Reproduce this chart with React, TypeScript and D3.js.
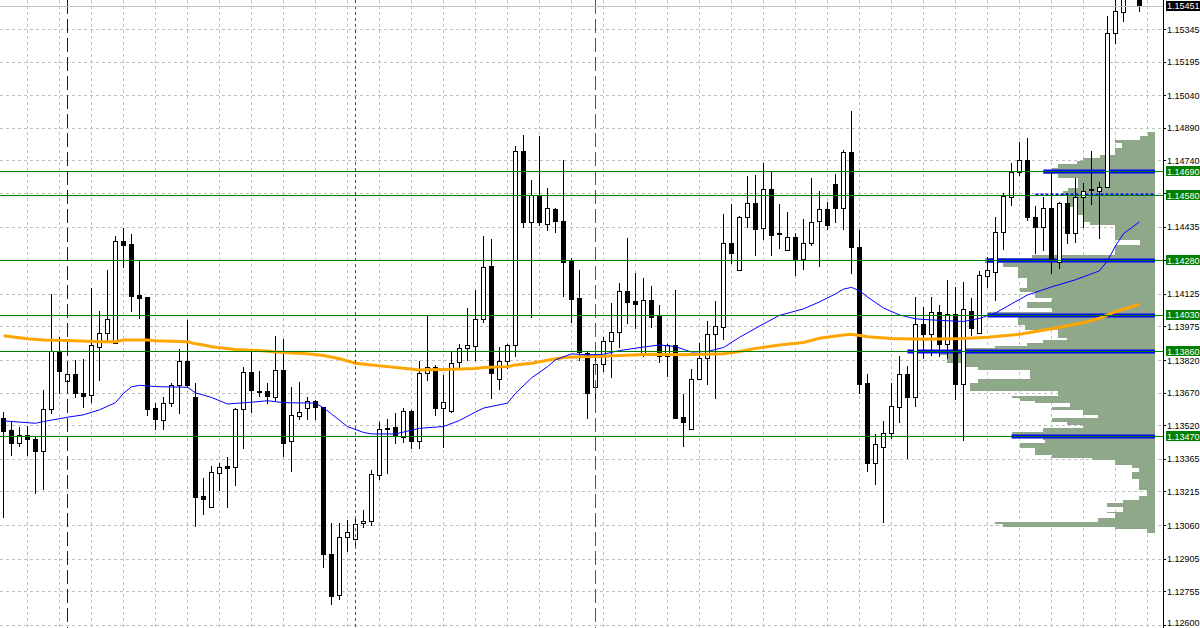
import { useEffect, useRef } from 'react';
import * as d3 from 'd3';

const WIDTH = 1200;
const HEIGHT = 628;
const AXIS_X = 1163;

// price scale labels on the right
const priceTicks = [
  1.15345, 1.15195, 1.1504, 1.1489, 1.1474, 1.1459, 1.14435, 1.1428, 1.14125, 1.13975,
  1.1382, 1.1367, 1.1352, 1.13365, 1.13215, 1.1306, 1.12905, 1.12755, 1.126,
];

// horizontal support / resistance levels
const levelPrices = [1.1469, 1.1458, 1.1428, 1.1403, 1.1386, 1.1347];
// bar where the profile marker for each level starts
const levelMarkFromBar = [130, 129, 123, 123, 113, 126];
const bidPrice = 1.15451;

// period separators (bar index)
const separatorBars = [8, 44, 74];

// candles: [open, high, low, close]
type Candle = [number, number, number, number];
const candles: Candle[] = [
  [1.13555, 1.13583, 1.13099, 1.13495], [1.13499, 1.13537, 1.13383, 1.1344], [1.13437, 1.13514, 1.13425, 1.13476],
  [1.13476, 1.13517, 1.13383, 1.13456], [1.13457, 1.13466, 1.13208, 1.13403], [1.13403, 1.13683, 1.13227, 1.13594],
  [1.13594, 1.14125, 1.13575, 1.13861], [1.13861, 1.13926, 1.1367, 1.13772], [1.13722, 1.13775, 1.1371, 1.13755],
  [1.13755, 1.13821, 1.13652, 1.13667], [1.13667, 1.13826, 1.13603, 1.13656], [1.1366, 1.14153, 1.13629, 1.13889],
  [1.13882, 1.14047, 1.13729, 1.13944], [1.13944, 1.14236, 1.13913, 1.14008], [1.13901, 1.14392, 1.13901, 1.14368],
  [1.14368, 1.14429, 1.14247, 1.14352], [1.14355, 1.14401, 1.14048, 1.14117], [1.1412, 1.14278, 1.14016, 1.14108],
  [1.1411, 1.1411, 1.13566, 1.13597], [1.13599, 1.13622, 1.13501, 1.13551], [1.13543, 1.13652, 1.13501, 1.13622],
  [1.13624, 1.13713, 1.1361, 1.13704], [1.13704, 1.13872, 1.13578, 1.13815], [1.13815, 1.14005, 1.13695, 1.13704],
  [1.13652, 1.13713, 1.13056, 1.13189], [1.13195, 1.13275, 1.13112, 1.13182], [1.13145, 1.13333, 1.13145, 1.13304],
  [1.13302, 1.13345, 1.13222, 1.13327], [1.13333, 1.13375, 1.13145, 1.13325], [1.1333, 1.136, 1.13245, 1.13594],
  [1.13594, 1.1379, 1.13413, 1.13765], [1.13765, 1.1386, 1.13581, 1.13684], [1.13678, 1.13772, 1.13656, 1.13672],
  [1.13678, 1.13713, 1.13624, 1.13656], [1.13652, 1.13932, 1.13637, 1.13775], [1.13775, 1.13919, 1.1338, 1.1344],
  [1.13446, 1.13695, 1.13307, 1.13566], [1.13564, 1.1372, 1.13548, 1.1358], [1.13599, 1.1365, 1.13551, 1.13631],
  [1.13631, 1.13635, 1.13548, 1.13603], [1.13603, 1.13603, 1.12866, 1.12928], [1.12928, 1.13069, 1.12696, 1.12732],
  [1.12737, 1.13069, 1.1272, 1.13004], [1.13004, 1.13084, 1.12943, 1.1303], [1.12995, 1.13103, 1.12964, 1.13064],
  [1.13069, 1.1313, 1.1305, 1.13078], [1.13078, 1.13314, 1.1306, 1.13295], [1.1329, 1.13535, 1.13272, 1.13501],
  [1.13508, 1.13548, 1.13299, 1.13501], [1.13511, 1.13578, 1.13437, 1.13471], [1.13465, 1.13599, 1.13444, 1.13585],
  [1.13585, 1.1359, 1.13415, 1.13446], [1.13446, 1.13814, 1.13415, 1.1376], [1.1376, 1.14024, 1.13729, 1.1379],
  [1.13787, 1.13798, 1.13568, 1.13599], [1.13599, 1.13752, 1.13422, 1.13629], [1.13587, 1.1386, 1.13583, 1.13807],
  [1.13811, 1.13894, 1.13782, 1.13875], [1.13875, 1.14059, 1.13821, 1.13889], [1.13887, 1.14143, 1.13821, 1.14011],
  [1.14011, 1.14392, 1.13997, 1.14247], [1.14254, 1.14377, 1.13646, 1.1376], [1.13732, 1.13882, 1.13689, 1.13815],
  [1.13818, 1.13895, 1.13782, 1.13889], [1.13889, 1.14806, 1.13839, 1.14782], [1.14782, 1.14857, 1.14435, 1.14458],
  [1.14458, 1.1465, 1.1402, 1.14582], [1.14582, 1.14853, 1.14443, 1.14454], [1.14446, 1.14612, 1.1442, 1.1452],
  [1.14516, 1.1452, 1.14412, 1.14463], [1.1446, 1.14742, 1.14116, 1.14274], [1.14278, 1.1429, 1.13997, 1.14102],
  [1.14105, 1.14236, 1.13821, 1.13856], [1.13851, 1.1386, 1.13555, 1.1367], [1.13697, 1.1383, 1.13646, 1.13802],
  [1.13802, 1.13928, 1.13772, 1.13908], [1.13908, 1.14085, 1.13743, 1.13949], [1.13949, 1.14177, 1.13882, 1.14139],
  [1.14139, 1.14384, 1.13993, 1.14089], [1.14092, 1.14223, 1.13967, 1.14077], [1.13844, 1.142, 1.1384, 1.14097],
  [1.14097, 1.14162, 1.13974, 1.1402], [1.14024, 1.14074, 1.13811, 1.1384], [1.13839, 1.13895, 1.13747, 1.1389],
  [1.1389, 1.14143, 1.13552, 1.13555], [1.1356, 1.13664, 1.13426, 1.13537], [1.13501, 1.13778, 1.13501, 1.13732],
  [1.13732, 1.13901, 1.13732, 1.1383], [1.1383, 1.14002, 1.1371, 1.13939], [1.13939, 1.14092, 1.13646, 1.13976],
  [1.13971, 1.14493, 1.13919, 1.14359], [1.14359, 1.14539, 1.14266, 1.14312], [1.14234, 1.14484, 1.14234, 1.14478],
  [1.14478, 1.14668, 1.14435, 1.14543], [1.14543, 1.14673, 1.14305, 1.14426], [1.14428, 1.1473, 1.14377, 1.14607],
  [1.14607, 1.1469, 1.14302, 1.14398], [1.14405, 1.14539, 1.14337, 1.144], [1.14326, 1.14503, 1.14326, 1.14387],
  [1.14387, 1.14405, 1.1421, 1.14282], [1.14285, 1.1447, 1.14238, 1.14361], [1.14361, 1.14658, 1.14351, 1.14458],
  [1.1446, 1.14601, 1.14255, 1.14515], [1.14515, 1.1455, 1.14423, 1.14444], [1.1463, 1.14678, 1.14454, 1.1452],
  [1.1452, 1.14788, 1.14423, 1.14778], [1.14778, 1.14968, 1.14221, 1.14339], [1.14342, 1.1442, 1.1367, 1.13711],
  [1.13713, 1.13757, 1.13311, 1.13348], [1.13348, 1.13479, 1.13248, 1.13433], [1.13419, 1.1354, 1.13076, 1.13483],
  [1.13483, 1.13713, 1.13462, 1.13609], [1.13606, 1.13839, 1.13537, 1.13755], [1.13755, 1.13794, 1.13371, 1.13652],
  [1.13652, 1.14112, 1.13609, 1.13985], [1.13987, 1.14066, 1.1383, 1.13938], [1.13939, 1.14112, 1.13844, 1.14041],
  [1.14041, 1.14074, 1.1384, 1.13896], [1.13896, 1.14189, 1.1383, 1.14031], [1.14031, 1.14156, 1.13641, 1.1371],
  [1.1371, 1.1418, 1.13452, 1.14054], [1.14048, 1.14106, 1.13936, 1.1397], [1.13944, 1.14231, 1.13944, 1.14211],
  [1.14209, 1.14297, 1.14158, 1.14234], [1.14228, 1.1448, 1.14097, 1.14409], [1.14409, 1.14591, 1.1433, 1.14576],
  [1.14573, 1.14728, 1.14535, 1.14688], [1.14688, 1.14823, 1.14673, 1.1474], [1.1474, 1.14841, 1.14466, 1.14481],
  [1.14479, 1.1453, 1.14315, 1.14435], [1.14435, 1.14571, 1.14328, 1.1452], [1.1452, 1.14681, 1.14221, 1.14282],
  [1.14274, 1.1455, 1.14243, 1.14543], [1.14543, 1.14588, 1.14361, 1.14407], [1.14407, 1.14658, 1.14366, 1.14573],
  [1.14573, 1.14637, 1.14435, 1.14601], [1.14605, 1.14785, 1.14539, 1.14608], [1.14601, 1.14642, 1.14384, 1.14619],
  [1.14619, 1.15405, 1.14616, 1.15326], [1.15328, 1.15482, 1.15282, 1.15427], [1.15422, 1.15495, 1.15384, 1.15485],
  [1.155, 1.1556, 1.15488, 1.1553], [1.1549, 1.155, 1.15428, 1.15451],
];

// moving averages: [bar, value]
const maFast: [number, number][] = [
  [0, 1.1354], [4, 1.13529], [5, 1.13537], [8, 1.13557], [10, 1.13568], [12, 1.13591], [14, 1.13624],
  [15, 1.13667], [16, 1.13697], [17, 1.13704], [19, 1.13698], [23, 1.13695], [24, 1.13669], [26, 1.13648],
  [28, 1.13618], [31, 1.13626], [33, 1.13633], [35, 1.13624], [39, 1.13622], [40, 1.136], [41, 1.13572],
  [43, 1.13514], [45, 1.13487], [46, 1.1348], [49, 1.1348], [52, 1.13506], [55, 1.13514], [57, 1.13542],
  [59, 1.13581], [60, 1.13599], [63, 1.13622], [64, 1.13667], [66, 1.13738], [68, 1.1379], [69, 1.13821],
  [71, 1.13849], [73, 1.13844], [75, 1.13847], [77, 1.13864], [80, 1.1388], [82, 1.1389], [84, 1.13882],
  [86, 1.13857], [88, 1.1386], [90, 1.13878], [92, 1.13925], [95, 1.13987], [97, 1.14026], [100, 1.14056],
  [102, 1.14088], [104, 1.14125], [105, 1.14147], [106, 1.14155], [107, 1.14139], [108, 1.14111],
  [110, 1.1406], [112, 1.14028], [114, 1.1401], [116, 1.14005], [120, 1.13998], [122, 1.14012],
  [124, 1.14037], [126, 1.14079], [128, 1.1412], [131, 1.14157], [134, 1.1419], [137, 1.14231],
  [138, 1.14277], [139, 1.14346], [140, 1.14402], [142, 1.14457],
];

const maSlow: [number, number][] = [
  [0, 1.13932], [3, 1.13918], [5, 1.13913], [8, 1.1391], [12, 1.13905], [14, 1.13905], [15, 1.13913],
  [18, 1.13913], [19, 1.13909], [23, 1.13905], [24, 1.13895], [25, 1.1389], [26, 1.13882], [29, 1.13869],
  [32, 1.13864], [35, 1.13855], [38, 1.13849], [40, 1.13841], [42, 1.13826], [44, 1.13806], [46, 1.13798],
  [48, 1.1379], [50, 1.13782], [52, 1.13775], [56, 1.13778], [59, 1.13781], [60, 1.13786], [63, 1.1379],
  [64, 1.13798], [66, 1.13806], [68, 1.13819], [70, 1.13832], [72, 1.13836], [75, 1.13838], [77, 1.13841],
  [81, 1.13847], [85, 1.13845], [90, 1.13849], [92, 1.1386], [94, 1.13874], [97, 1.1389], [100, 1.13901],
  [102, 1.13921], [105, 1.13936], [106, 1.13939], [108, 1.13928], [111, 1.13919], [115, 1.13916],
  [120, 1.13919], [123, 1.13925], [125, 1.13932], [127, 1.13939], [131, 1.13964], [135, 1.13992],
  [137, 1.14013], [139, 1.14043], [142, 1.14077],
];

// volume profile: top price of each row and its volume
const profileLevels = [
  1.1487, 1.14854, 1.14834, 1.1482, 1.14797, 1.14765, 1.1475, 1.14738, 1.14722, 1.14707, 1.14696,
  1.14676, 1.14658, 1.14612, 1.14597, 1.14578, 1.14527, 1.14489, 1.14458, 1.1444, 1.14374, 1.14351,
  1.14305, 1.1429, 1.14267, 1.14251, 1.14198, 1.14153, 1.14136, 1.14105, 1.14089, 1.14062, 1.14041,
  1.1402, 1.13982, 1.13959, 1.13924, 1.13913, 1.13898, 1.13887, 1.13875, 1.1386, 1.13844, 1.13806,
  1.1379, 1.13775, 1.13734, 1.13713, 1.13676, 1.13656, 1.13646, 1.13632, 1.13622, 1.13606, 1.13591,
  1.13568, 1.13555, 1.13537, 1.13522, 1.13507, 1.13491, 1.13476, 1.13453, 1.13437, 1.13415, 1.13383,
  1.13368, 1.1336, 1.13337, 1.13322, 1.13306, 1.13273, 1.13222, 1.13196, 1.13176, 1.13161, 1.13145,
  1.13122, 1.13115, 1.13095, 1.13076, 1.13064, 1.13053, 1.13042,
];
const profileVolume = [
  7, 15, 40, 33, 40, 55, 72, 78, 97, 103, 112,
  97, 77, 87, 92, 87, 77, 72, 65, 40, 15, 40,
  123, 170, 152, 137, 128, 135, 120, 103, 128, 103, 167,
  137, 130, 97, 88, 112, 128, 160, 190, 215, 208, 190,
  177, 125, 177, 185, 97, 143, 135, 120, 85, 103, 72,
  57, 103, 88, 72, 112, 143, 112, 110, 135, 120, 103,
  63, 40, 23, 16, 23, 16, 8, 16, 32, 48, 32,
  48, 40, 57, 160, 152, 40, 8,
];
const profileBottom = 1.13023;

const fmt = (v: number) => v.toFixed(5);

const App = () => {
  const svgRef = useRef<SVGSVGElement>(null);

  useEffect(() => {
    if (!svgRef.current) return;
    const svg = d3.select(svgRef.current);
    svg.selectAll('*').remove();

    const x = d3.scaleLinear().domain([0, 142]).range([3.5, 1139.5]);
    const y = d3.scaleLinear().domain([1.126, 1.15345]).range([625, 29]);
    const crisp = (v: number) => Math.round(v) + 0.5;
    const font = "'Liberation Sans', Arial, sans-serif";
    const fontSize = 9;

    svg.append('rect').attr('width', WIDTH).attr('height', HEIGHT).attr('fill', '#ffffff');

    svg.append('defs').append('clipPath').attr('id', 'plot-clip')
      .append('rect').attr('width', AXIS_X).attr('height', HEIGHT);

    const plot = svg.append('g').attr('clip-path', 'url(#plot-clip)');

    // grid
    const grid = plot.append('g')
      .attr('stroke', '#c0c0c0')
      .attr('stroke-dasharray', '3,3')
      .attr('shape-rendering', 'crispEdges');
    d3.range(3, 144, 4).forEach(i => {
      grid.append('line').attr('x1', x(i)).attr('x2', x(i)).attr('y1', 0).attr('y2', HEIGHT);
    });
    priceTicks.forEach(p => {
      grid.append('line').attr('x1', 0).attr('x2', AXIS_X).attr('y1', crisp(y(p))).attr('y2', crisp(y(p)));
    });

    // volume profile
    const profileRight = x(144) - 0.5;
    const vol = d3.scaleLinear().domain([0, 215]).range([0, 215]);
    const rowEdges = [...profileLevels, profileBottom];
    plot.append('g').attr('shape-rendering', 'crispEdges')
      .selectAll('rect')
      .data(profileVolume)
      .enter()
      .append('rect')
      .attr('x', d => Math.round(profileRight - vol(d)))
      .attr('y', (d, k) => Math.round(y(rowEdges[k])))
      .attr('width', d => profileRight - Math.round(profileRight - vol(d)))
      .attr('height', (d, k) => Math.max(1, Math.round(y(rowEdges[k + 1])) - Math.round(y(rowEdges[k]))))
      .attr('fill', '#8fa88a');

    // profile level markers
    levelPrices.forEach((p, k) => {
      const dotted = k === 1;
      plot.append('line')
        .attr('x1', x(levelMarkFromBar[k]))
        .attr('x2', profileRight)
        .attr('y1', crisp(y(p)) - (dotted ? 1 : 0))
        .attr('y2', crisp(y(p)) - (dotted ? 1 : 0))
        .attr('stroke', '#0000ff')
        .attr('stroke-width', dotted ? 2 : 4)
        .attr('stroke-dasharray', dotted ? '3,2' : null);
    });

    // candles
    const cg = plot.append('g').attr('shape-rendering', 'crispEdges');
    candles.forEach(([o, h, l, c], i) => {
      const cx = x(i);
      cg.append('line')
        .attr('x1', cx).attr('x2', cx)
        .attr('y1', Math.round(y(h))).attr('y2', Math.round(y(l)) + 1)
        .attr('stroke', '#000');
      const top = Math.round(y(Math.max(o, c)));
      const bot = Math.round(y(Math.min(o, c)));
      if (bot - top < 1) {
        cg.append('line')
          .attr('x1', cx - 2.5).attr('x2', cx + 2.5)
          .attr('y1', top + 0.5).attr('y2', top + 0.5)
          .attr('stroke', '#000');
      } else {
        cg.append('rect')
          .attr('x', cx - 2).attr('y', top + 0.5)
          .attr('width', 4).attr('height', bot - top)
          .attr('fill', c >= o ? '#ffffff' : '#000000')
          .attr('stroke', '#000');
      }
    });

    // moving averages
    const line = d3.line<[number, number]>().x(d => x(d[0])).y(d => y(d[1]));
    plot.append('path').attr('d', line(maSlow)).attr('fill', 'none')
      .attr('stroke', '#ffa500').attr('stroke-width', 3);
    plot.append('path').attr('d', line(maFast)).attr('fill', 'none')
      .attr('stroke', '#0000ff').attr('stroke-width', 1);

    // level lines
    levelPrices.forEach(p => {
      plot.append('line')
        .attr('x1', 0).attr('x2', AXIS_X)
        .attr('y1', crisp(y(p))).attr('y2', crisp(y(p)))
        .attr('stroke', '#008000')
        .attr('shape-rendering', 'crispEdges');
    });

    // period separators
    const sepColors = ['#0000ff', '#ff0000', '#dc143c'];
    const sepDash = ['14,5', '3,3', '14,5'];
    separatorBars.forEach((b, k) => {
      plot.append('line')
        .attr('x1', x(b)).attr('x2', x(b))
        .attr('y1', 0).attr('y2', HEIGHT)
        .attr('stroke', sepColors[k])
        .attr('stroke-dasharray', sepDash[k])
        .attr('shape-rendering', 'crispEdges');
    });

    // bid line
    plot.append('line')
      .attr('x1', 0).attr('x2', AXIS_X)
      .attr('y1', crisp(y(bidPrice))).attr('y2', crisp(y(bidPrice)))
      .attr('stroke', '#c0c0c0')
      .attr('shape-rendering', 'crispEdges');

    // price axis
    const axis = svg.append('g');
    axis.append('line')
      .attr('x1', AXIS_X + 0.5).attr('x2', AXIS_X + 0.5)
      .attr('y1', 0).attr('y2', HEIGHT)
      .attr('stroke', '#000');
    priceTicks.forEach(p => {
      const ty = Math.min(y(p), HEIGHT - 6);
      axis.append('line')
        .attr('x1', AXIS_X).attr('x2', AXIS_X + 3)
        .attr('y1', crisp(y(p))).attr('y2', crisp(y(p)))
        .attr('stroke', '#000');
      axis.append('text')
        .attr('x', AXIS_X + 4)
        .attr('y', ty + 3.5)
        .attr('font-family', font)
        .attr('font-size', fontSize)
        .attr('fill', '#000')
        .text(fmt(p));
    });

    const tag = (p: number, bg: string) => {
      const cy = Math.max(y(p), 5.5);
      axis.append('rect')
        .attr('x', AXIS_X + 3).attr('y', Math.round(cy) - 5)
        .attr('width', WIDTH - AXIS_X).attr('height', 10)
        .attr('fill', bg);
      axis.append('text')
        .attr('x', AXIS_X + 4)
        .attr('y', cy + 3.5)
        .attr('font-family', font)
        .attr('font-size', fontSize)
        .attr('fill', '#ffffff')
        .text(fmt(p));
    };
    levelPrices.forEach(p => tag(p, '#008000'));
    tag(bidPrice, '#000000');
  }, []);

  return (
    <svg
      ref={svgRef}
      width={WIDTH}
      height={HEIGHT}
      style={{ position: 'absolute', left: 0, top: 0, display: 'block' }}
    />
  );
};

export default App;
